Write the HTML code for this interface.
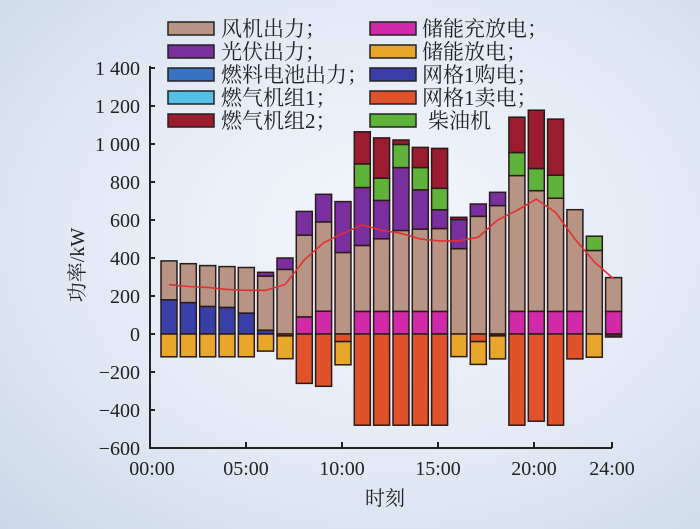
<!DOCTYPE html>
<html><head><meta charset="utf-8"><style>
html,body{margin:0;padding:0;width:700px;height:529px;overflow:hidden}
body{background:radial-gradient(ellipse at 55% 45%,#f4f7fc 0%,#e3eaf5 55%,#cbd8ea 100%)}
svg{position:absolute;left:0;top:0}
text{font-family:"Liberation Serif","Noto Serif CJK SC",serif;fill:#222}
</style></head><body>
<svg id="s" width="700" height="529" xmlns="http://www.w3.org/2000/svg">
<g font-size="21">
<rect x="168" y="22" width="46" height="13" fill="#b89484" stroke="#222" stroke-width="1.5"/><text x="221" y="36">风机出力；</text>
<rect x="168" y="45" width="46" height="13" fill="#7a2f9e" stroke="#222" stroke-width="1.5"/><text x="221" y="59">光伏出力；</text>
<rect x="168" y="68" width="46" height="13" fill="#3a72c2" stroke="#222" stroke-width="1.5"/><text x="221" y="82">燃料电池出力；</text>
<rect x="168" y="91" width="46" height="13" fill="#55c0e6" stroke="#222" stroke-width="1.5"/><text x="221" y="105">燃气机组1；</text>
<rect x="168" y="114" width="46" height="13" fill="#9b1c2e" stroke="#222" stroke-width="1.5"/><text x="221" y="128">燃气机组2；</text>
<rect x="370" y="22" width="46" height="13" fill="#d12aa8" stroke="#222" stroke-width="1.5"/><text x="422" y="36">储能充放电；</text>
<rect x="370" y="45" width="46" height="13" fill="#e8a72a" stroke="#222" stroke-width="1.5"/><text x="422" y="59">储能放电；</text>
<rect x="370" y="68" width="46" height="13" fill="#3a3fa8" stroke="#222" stroke-width="1.5"/><text x="422" y="82">网格1购电；</text>
<rect x="370" y="91" width="46" height="13" fill="#e0532a" stroke="#222" stroke-width="1.5"/><text x="422" y="105">网格1卖电；</text>
<rect x="370" y="114" width="46" height="13" fill="#5fb33a" stroke="#222" stroke-width="1.5"/><text x="428" y="128">柴油机</text>
</g>
<g id="bars"></g>
<g id="axes" stroke="#222" stroke-width="2" fill="none">
<path d="M150 66 V448 H612"/>
</g>
<g font-size="20" text-anchor="end" id="yl">
<text x="140" y="75">1 400</text><text x="140" y="113">1 200</text><text x="140" y="151">1 000</text>
<text x="140" y="189">800</text><text x="140" y="227">600</text><text x="140" y="265">400</text>
<text x="140" y="303">200</text><text x="140" y="341">0</text><text x="140" y="379">−200</text>
<text x="140" y="417">−400</text><text x="140" y="455">−600</text>
</g>
<g font-size="20" text-anchor="middle">
<text x="152" y="475">00:00</text><text x="246" y="475">05:00</text><text x="342" y="475">10:00</text>
<text x="438" y="475">15:00</text><text x="534" y="475">20:00</text><text x="612" y="475">24:00</text>
<text x="385" y="505">时刻</text>
<text transform="translate(84,265) rotate(-90)">功率/kW</text>
</g>
</svg>
<script>
var C={b:"#b89484",p:"#7a2f9e",n:"#3a3fa8",m:"#d12aa8",o:"#e8a72a",r:"#e0532a",d:"#9b1c2e",g:"#5fb33a",k:"#5a2a20"};
var D=[
[["n",0,180],["b",180,385],["o",0,-120]],
[["n",0,165],["b",165,370],["o",0,-120]],
[["n",0,145],["b",145,360],["o",0,-120]],
[["n",0,140],["b",140,355],["o",0,-120]],
[["n",0,110],["b",110,350],["o",0,-120]],
[["n",0,20],["b",20,305],["p",305,325],["o",0,-90]],
[["b",0,340],["p",340,400],["r",0,-10],["o",-10,-130]],
[["m",0,90],["b",90,520],["p",520,645],["r",0,-260]],
[["m",0,120],["b",120,590],["p",590,735],["r",0,-275]],
[["b",0,429],["p",429,697],["r",0,-40],["o",-40,-162]],
[["m",0,119],["b",119,466],["p",466,771],["g",771,895],["d",895,1064],["r",0,-480]],
[["m",0,119],["b",119,501],["p",501,703],["g",703,820],["d",820,1032],["r",0,-480]],
[["m",0,119],["b",119,545],["p",545,876],["g",876,998],["d",998,1021],["r",0,-480]],
[["m",0,119],["b",119,552],["p",552,759],["g",759,876],["d",876,982],["r",0,-480]],
[["m",0,119],["b",119,555],["p",555,654],["g",654,767],["d",767,977],["r",0,-480]],
[["b",0,449],["p",449,602],["d",602,614],["o",0,-119]],
[["b",0,619],["p",619,684],["r",0,-40],["o",-40,-160]],
[["b",0,676],["p",676,746],["k",0,-10],["o",-10,-131]],
[["m",0,119],["b",119,834],["g",834,955],["d",955,1141],["r",0,-480]],
[["m",0,119],["b",119,754],["g",754,871],["d",871,1178],["r",0,-459]],
[["m",0,119],["b",119,715],["g",715,836],["d",836,1131],["r",0,-480]],
[["m",0,119],["b",119,654],["r",0,-131]],
[["b",0,440],["g",440,515],["o",0,-122]],
[["m",0,119],["b",119,297],["k",0,-16]]];
function Y(v){return 334-0.19*v;}
var h="";
D.forEach(function(bar,i){var x=161+i*19.33;
 bar.forEach(function(s){var y1=Y(Math.max(s[1],s[2])),y2=Y(Math.min(s[1],s[2]));
  h+='<rect x="'+x.toFixed(1)+'" y="'+y1.toFixed(1)+'" width="16" height="'+(y2-y1).toFixed(1)+'" fill="'+C[s[0]]+'" stroke="#2a1a1a" stroke-width="1.5"/>';});});
var L=[260,250,245,235,230,230,260,390,480,530,575,545,530,500,490,490,510,600,650,710,640,500,380,290];
var pts=L.map(function(v,i){return (169+i*19.33).toFixed(1)+","+Y(v).toFixed(1)}).join(" ");
h+='<polyline points="'+pts+'" fill="none" stroke="#e03030" stroke-width="1.6"/>';
document.getElementById("bars").innerHTML=h;
var t="";[1400,1200,1000,800,600,400,200,0,-200,-400,-600].forEach(function(v){t+='<path d="M150 '+Y(v)+' h5"/>';});
[246,342,438,534,612].forEach(function(x){t+='<path d="M'+x+' 448 v-6"/>';});
document.getElementById("axes").innerHTML+=t;
</script>
</body></html>
